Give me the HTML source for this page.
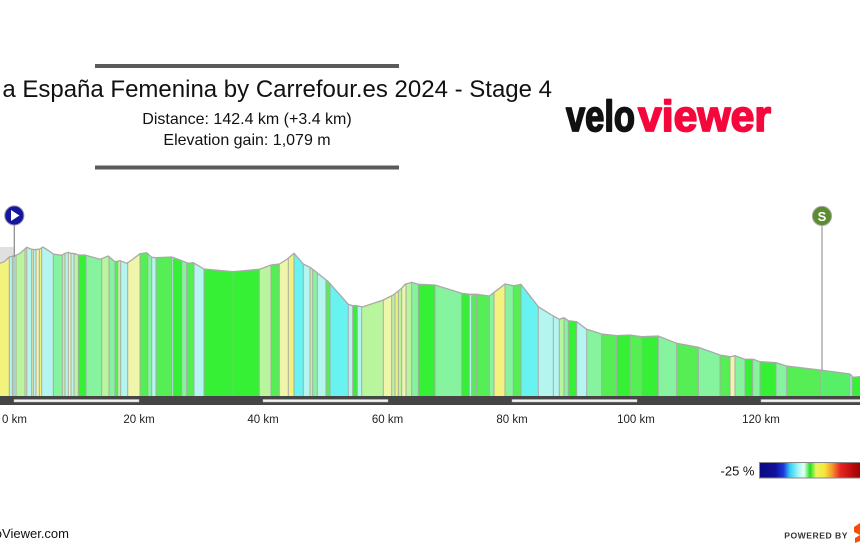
<!DOCTYPE html>
<html><head><meta charset="utf-8">
<style>
html,body{margin:0;padding:0;background:#fff;width:860px;height:546px;overflow:hidden}
svg{display:block}
.Y{fill:#f2f27c}.PY{fill:#eff6ab}.PG{fill:#b9f59d}.LG{fill:#86f49e}.MG{fill:#55ee55}.BG{fill:#35f035}.LC{fill:#b4f6ef}.C{fill:#68f3f1}.M2{fill:#58ef68}
text{font-family:"Liberation Sans",Arial,sans-serif}
</style></head><body>
<svg width="860" height="546" viewBox="0 0 860 546" xmlns="http://www.w3.org/2000/svg">
<defs>
<clipPath id="p"><polygon points="0,263.3 4.3,261.7 9.3,257 13.3,256 16,255.3 20,253.3 26.7,247.3 31.7,249.3 35,249.7 37.3,249.3 40,249 42.7,247 46.7,249.3 53.3,254 61.7,255.3 65,253.3 68.3,252.3 70.7,253.3 75,253.7 78.3,255 85,255 100,259.3 108.3,256 115,261.7 120,260.7 126.7,263.3 131.7,260 140,253.7 146.7,252.7 151.7,257.3 156.7,257.7 171.7,257 180,260 188.3,263.3 193.3,262.7 204,269 233.3,271.7 259.3,269.3 271,265 279.3,264 287.3,259 294,253.3 303.3,264 310,267.3 315,271 328.3,281.7 348.3,304.3 352.7,305.7 356.7,305.7 362.3,307 383.3,300 393.3,295 401.7,288.3 405,284.3 411.7,282.3 418.3,284.3 435,285 461.7,293.3 469.3,294.3 476.7,294.3 489.3,296 495,291.7 505,284 510,285 514,285.7 521,284.3 538.3,306.7 553.3,316 559.3,319.3 564,317.7 568.3,320.7 576.7,321.7 586.7,329.3 601.7,334 616.7,335.7 630,335 641.7,336.7 658.3,336 676.7,343.3 698.3,347.3 720,355 730,356.7 735,355.7 745,359.3 753.3,359.3 760,361.7 776,362.7 786.7,366 820,370 850,374 853.3,377.3 860,376.7 860,396 0,396"/></clipPath>
<linearGradient id="lg" x1="0" x2="1" y1="0" y2="0">
<stop offset="0" stop-color="#0a0a80"/>
<stop offset="0.16" stop-color="#10129a"/>
<stop offset="0.24" stop-color="#1f3ae0"/>
<stop offset="0.3" stop-color="#33ccf5"/>
<stop offset="0.38" stop-color="#9ff6f6"/>
<stop offset="0.44" stop-color="#e8fff5"/>
<stop offset="0.5" stop-color="#22dd22"/>
<stop offset="0.56" stop-color="#e8f560"/>
<stop offset="0.64" stop-color="#f5e83a"/>
<stop offset="0.72" stop-color="#f5962e"/>
<stop offset="0.8" stop-color="#e82424"/>
<stop offset="0.92" stop-color="#b80c0c"/>
<stop offset="1" stop-color="#a00000"/>
</linearGradient>
</defs>

<!-- header -->
<rect x="95" y="64" width="304" height="4" fill="#5a5a5a"/>
<rect x="95" y="165.5" width="304" height="4" fill="#5a5a5a"/>
<text x="552" y="97" font-size="24" text-anchor="end" fill="#111">Vuelta a España Femenina by Carrefour.es 2024 - Stage 4</text>
<text x="247" y="124" font-size="16" text-anchor="middle" fill="#111">Distance: 142.4 km (+3.4 km)</text>
<text x="247" y="145" font-size="16" text-anchor="middle" fill="#111">Elevation gain: 1,079 m</text>

<!-- logo -->
<text x="566" y="131" font-size="44" font-weight="bold" fill="#111" stroke="#111" stroke-width="1.8" stroke-linejoin="round" textLength="69" lengthAdjust="spacingAndGlyphs">velo</text>
<text x="638" y="131" font-size="44" font-weight="bold" fill="#f5073c" stroke="#f5073c" stroke-width="1.8" stroke-linejoin="round" textLength="133" lengthAdjust="spacingAndGlyphs">viewer</text>

<!-- gray pre-start box -->
<rect x="0" y="247" width="14" height="16" fill="#e0e0e0"/>

<!-- profile -->
<g clip-path="url(#p)">
<rect class="Y" x="0" y="240" width="9.3" height="160"/>
<rect class="LC" x="9.3" y="240" width="3" height="160"/>
<rect class="PG" x="12.3" y="240" width="1.7" height="160"/>
<rect class="LC" x="14" y="240" width="2" height="160"/>
<rect class="PG" x="16" y="240" width="9" height="160"/>
<rect class="Y" x="25" y="240" width="1.7" height="160"/>
<rect class="LC" x="26.7" y="240" width="5" height="160"/>
<rect class="PY" x="31.7" y="240" width="1.6" height="160"/>
<rect class="LC" x="33.3" y="240" width="2.7" height="160"/>
<rect class="PY" x="36" y="240" width="3.3" height="160"/>
<rect class="Y" x="39.3" y="240" width="2.4" height="160"/>
<rect class="LC" x="41.7" y="240" width="11.6" height="160"/>
<rect class="LG" x="53.3" y="240" width="9" height="160"/>
<rect class="PG" x="62.3" y="240" width="2.7" height="160"/>
<rect class="LC" x="65" y="240" width="3.3" height="160"/>
<rect class="PY" x="68.3" y="240" width="2.7" height="160"/>
<rect class="LC" x="71" y="240" width="3" height="160"/>
<rect class="PG" x="74" y="240" width="4.3" height="160"/>
<rect class="BG" x="78.3" y="240" width="7.7" height="160"/>
<rect class="LG" x="86" y="240" width="15.7" height="160"/>
<rect class="PG" x="101.7" y="240" width="7.3" height="160"/>
<rect class="LG" x="109" y="240" width="6" height="160"/>
<rect class="MG" x="115" y="240" width="2.7" height="160"/>
<rect class="PG" x="117.7" y="240" width="3" height="160"/>
<rect class="LC" x="120.7" y="240" width="7" height="160"/>
<rect class="PY" x="127.7" y="240" width="12.3" height="160"/>
<rect class="MG" x="140" y="240" width="7.7" height="160"/>
<rect class="LG" x="147.7" y="240" width="4" height="160"/>
<rect class="LC" x="151.7" y="240" width="4.3" height="160"/>
<rect class="MG" x="156" y="240" width="15.7" height="160"/>
<rect class="LC" x="171.7" y="240" width="1.6" height="160"/>
<rect class="BG" x="173.3" y="240" width="8.4" height="160"/>
<rect class="LG" x="181.7" y="240" width="5" height="160"/>
<rect class="MG" x="186.7" y="240" width="7.3" height="160"/>
<rect class="LC" x="194" y="240" width="10" height="160"/>
<rect class="BG" x="204" y="240" width="55.3" height="160"/>
<rect class="PG" x="259.3" y="240" width="11.7" height="160"/>
<rect class="MG" x="271" y="240" width="8.3" height="160"/>
<rect class="PY" x="279.3" y="240" width="9" height="160"/>
<rect class="Y" x="288.3" y="240" width="5.7" height="160"/>
<rect class="C" x="294" y="240" width="9.3" height="160"/>
<rect class="LC" x="303.3" y="240" width="6.7" height="160"/>
<rect class="PG" x="310" y="240" width="2.7" height="160"/>
<rect class="LG" x="312.7" y="240" width="4.6" height="160"/>
<rect class="LC" x="317.3" y="240" width="8.7" height="160"/>
<rect class="MG" x="326" y="240" width="4" height="160"/>
<rect class="C" x="330" y="240" width="18.3" height="160"/>
<rect class="LC" x="348.3" y="240" width="4.4" height="160"/>
<rect class="BG" x="352.7" y="240" width="4.6" height="160"/>
<rect class="LC" x="357.3" y="240" width="4.4" height="160"/>
<rect class="PG" x="361.7" y="240" width="21.6" height="160"/>
<rect class="PY" x="383.3" y="240" width="8.4" height="160"/>
<rect class="PG" x="391.7" y="240" width="3.3" height="160"/>
<rect class="Y" x="395" y="240" width="3.3" height="160"/>
<rect class="PG" x="398.3" y="240" width="3.4" height="160"/>
<rect class="PY" x="401.7" y="240" width="4.3" height="160"/>
<rect class="PG" x="406" y="240" width="5.7" height="160"/>
<rect class="LG" x="411.7" y="240" width="6.6" height="160"/>
<rect class="BG" x="418.3" y="240" width="16.7" height="160"/>
<rect class="LG" x="435" y="240" width="26.7" height="160"/>
<rect class="BG" x="461.7" y="240" width="7.6" height="160"/>
<rect class="LC" x="469.3" y="240" width="2.4" height="160"/>
<rect class="MG" x="471.7" y="240" width="17.6" height="160"/>
<rect class="LG" x="489.3" y="240" width="4.7" height="160"/>
<rect class="Y" x="494" y="240" width="11" height="160"/>
<rect class="LG" x="505" y="240" width="8.3" height="160"/>
<rect class="MG" x="513.3" y="240" width="7.7" height="160"/>
<rect class="C" x="521" y="240" width="17.3" height="160"/>
<rect class="LC" x="538.3" y="240" width="21" height="160"/>
<rect class="PG" x="559.3" y="240" width="4.7" height="160"/>
<rect class="LG" x="564" y="240" width="4.3" height="160"/>
<rect class="BG" x="568.3" y="240" width="8.4" height="160"/>
<rect class="LC" x="576.7" y="240" width="10" height="160"/>
<rect class="LG" x="586.7" y="240" width="15" height="160"/>
<rect class="MG" x="601.7" y="240" width="15" height="160"/>
<rect class="BG" x="616.7" y="240" width="13.3" height="160"/>
<rect class="MG" x="630" y="240" width="11.7" height="160"/>
<rect class="BG" x="641.7" y="240" width="16.6" height="160"/>
<rect class="LG" x="658.3" y="240" width="18.4" height="160"/>
<rect class="MG" x="676.7" y="240" width="21.6" height="160"/>
<rect class="LG" x="698.3" y="240" width="21.7" height="160"/>
<rect class="MG" x="720" y="240" width="10" height="160"/>
<rect class="PY" x="730" y="240" width="5" height="160"/>
<rect class="LG" x="735" y="240" width="10" height="160"/>
<rect class="BG" x="745" y="240" width="7.7" height="160"/>
<rect class="LG" x="752.7" y="240" width="7.3" height="160"/>
<rect class="BG" x="760" y="240" width="16" height="160"/>
<rect class="LG" x="776" y="240" width="10.7" height="160"/>
<rect class="MG" x="786.7" y="240" width="33.3" height="160"/>
<rect class="M2" x="820" y="240" width="30" height="160"/>
<rect class="LC" x="850" y="240" width="2" height="160"/>
<rect class="BG" x="852" y="240" width="8" height="160"/>
<path stroke="#a9a9a9" stroke-width="1" fill="none" d="M9.3 240V396M12.3 240V396M14 240V396M16 240V396M25 240V396M26.7 240V396M31.7 240V396M33.3 240V396M36 240V396M39.3 240V396M41.7 240V396M53.3 240V396M62.3 240V396M65 240V396M68.3 240V396M71 240V396M74 240V396M78.3 240V396M86 240V396M101.7 240V396M109 240V396M115 240V396M117.7 240V396M120.7 240V396M127.7 240V396M140 240V396M147.7 240V396M151.7 240V396M156 240V396M171.7 240V396M173.3 240V396M181.7 240V396M186.7 240V396M194 240V396M204 240V396M233.3 240V396M259.3 240V396M271 240V396M279.3 240V396M288.3 240V396M294 240V396M303.3 240V396M310 240V396M312.7 240V396M317.3 240V396M326 240V396M330 240V396M348.3 240V396M352.7 240V396M357.3 240V396M361.7 240V396M383.3 240V396M391.7 240V396M395 240V396M398.3 240V396M401.7 240V396M406 240V396M411.7 240V396M418.3 240V396M435 240V396M461.7 240V396M469.3 240V396M471.7 240V396M476.7 240V396M489.3 240V396M494 240V396M505 240V396M513.3 240V396M521 240V396M538.3 240V396M553.3 240V396M559.3 240V396M564 240V396M568.3 240V396M576.7 240V396M586.7 240V396M601.7 240V396M616.7 240V396M630 240V396M641.7 240V396M658.3 240V396M676.7 240V396M698.3 240V396M720 240V396M730 240V396M735 240V396M745 240V396M752.7 240V396M760 240V396M776 240V396M786.7 240V396M820 240V396M850 240V396M852 240V396"/>
</g>
<polyline fill="none" stroke="#a9a9a9" stroke-width="1.3" points="0,263.3 4.3,261.7 9.3,257 13.3,256 16,255.3 20,253.3 26.7,247.3 31.7,249.3 35,249.7 37.3,249.3 40,249 42.7,247 46.7,249.3 53.3,254 61.7,255.3 65,253.3 68.3,252.3 70.7,253.3 75,253.7 78.3,255 85,255 100,259.3 108.3,256 115,261.7 120,260.7 126.7,263.3 131.7,260 140,253.7 146.7,252.7 151.7,257.3 156.7,257.7 171.7,257 180,260 188.3,263.3 193.3,262.7 204,269 233.3,271.7 259.3,269.3 271,265 279.3,264 287.3,259 294,253.3 303.3,264 310,267.3 315,271 328.3,281.7 348.3,304.3 352.7,305.7 356.7,305.7 362.3,307 383.3,300 393.3,295 401.7,288.3 405,284.3 411.7,282.3 418.3,284.3 435,285 461.7,293.3 469.3,294.3 476.7,294.3 489.3,296 495,291.7 505,284 510,285 514,285.7 521,284.3 538.3,306.7 553.3,316 559.3,319.3 564,317.7 568.3,320.7 576.7,321.7 586.7,329.3 601.7,334 616.7,335.7 630,335 641.7,336.7 658.3,336 676.7,343.3 698.3,347.3 720,355 730,356.7 735,355.7 745,359.3 753.3,359.3 760,361.7 776,362.7 786.7,366 820,370 850,374 853.3,377.3 860,376.7"/>

<!-- markers -->
<line x1="14.3" y1="225" x2="14.3" y2="257" stroke="#888" stroke-width="1.2"/>
<circle cx="14.3" cy="215.5" r="9.6" fill="#16169a" stroke="#9a9ab8" stroke-width="1"/>
<polygon points="11,210 11,221 19.5,215.5" fill="#fff"/>
<line x1="822" y1="226" x2="822" y2="370" stroke="#999" stroke-width="1.2"/>
<circle cx="822" cy="216" r="9.6" fill="#5b8c32" stroke="#aaa" stroke-width="1"/>
<text x="822" y="221" font-size="13" font-weight="bold" fill="#fff" text-anchor="middle">S</text>

<!-- axis bar -->
<rect x="0" y="396" width="860" height="9" fill="#454545"/>
<g fill="#f2f2f2" stroke="#bbb" stroke-width="0.5">
<rect x="14" y="399.5" width="125" height="2.5"/>
<rect x="263" y="399.5" width="125" height="2.5"/>
<rect x="512" y="399.5" width="125" height="2.5"/>
<rect x="761" y="399.5" width="100" height="2.5"/>
</g>
<g font-size="11.5" fill="#222" text-anchor="middle">
<text x="14.5" y="423">0 km</text>
<text x="139" y="423">20 km</text>
<text x="263" y="423">40 km</text>
<text x="387.5" y="423">60 km</text>
<text x="512" y="423">80 km</text>
<text x="636" y="423">100 km</text>
<text x="761" y="423">120 km</text>
</g>

<!-- legend -->
<text x="754.5" y="475.5" font-size="13" text-anchor="end" fill="#111">-25 %</text>
<rect x="759.5" y="462.5" width="101" height="15.5" fill="url(#lg)" stroke="#888" stroke-width="1"/>

<!-- footer -->
<text x="69" y="538" font-size="13" text-anchor="end" fill="#111">© VeloViewer.com</text>
<text x="848" y="538.5" font-size="8.6" font-weight="bold" text-anchor="end" fill="#333" letter-spacing="0.5">POWERED BY</text>
<path d="M860 523 L854 527 L854 532 L860 535 L855 538 L855 543 L860 541 Z" fill="#fc4c02"/>
</svg>
</body></html>
